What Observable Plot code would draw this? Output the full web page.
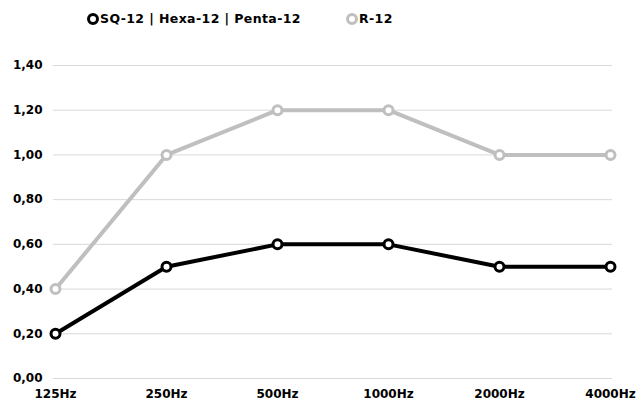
<!DOCTYPE html>
<html>
<head>
<meta charset="utf-8">
<script src="https://cdn.jsdelivr.net/npm/d3@7"></script>
<script src="https://cdn.jsdelivr.net/npm/@observablehq/plot@0.6"></script>
<style>
  html, body { margin: 0; padding: 0; background: #fff; }
  #wrap { position: relative; width: 643px; height: 404px; font-family: "DejaVu Sans", sans-serif; font-weight: 700; }
  .item { position: absolute; top: 11px; display: flex; align-items: center; font-size: 12.5px; letter-spacing: 0.4px; color: #000; line-height: 16px; white-space: nowrap; }
  .sw { display: inline-block; width: 6px; height: 6px; border-radius: 50%; background: #fff; border: 3px solid #000; margin-right: 1px; }
  #chart { position: absolute; top: 0; left: 0; }
</style>
</head>
<body>
<div id="wrap">
  <div id="chart"></div>
  <div id="legend"></div>
</div>
<script>
const categories = ["125Hz", "250Hz", "500Hz", "1000Hz", "2000Hz", "4000Hz"];
const seriesNames = ["SQ-12 | Hexa-12 | Penta-12", "R-12"];
const seriesColors = ["#000000", "#bfbfbf"];
const sqValues = [0.20, 0.50, 0.60, 0.60, 0.50, 0.50];
const rValues = [0.40, 1.00, 1.20, 1.20, 1.00, 1.00];
const yTicks = [0, 0.2, 0.4, 0.6, 0.8, 1.0, 1.2, 1.4];

const data = [
  ...categories.map((c, i) => ({cat: c, v: sqValues[i], s: seriesNames[0]})),
  ...categories.map((c, i) => ({cat: c, v: rValues[i], s: seriesNames[1]}))
];
const order = [seriesNames[1], seriesNames[0]];
data.sort((a, b) => order.indexOf(a.s) - order.indexOf(b.s));

const fmt = d => d.toFixed(2).replace(".", ",");

const chart = Plot.plot({
  width: 643,
  height: 404,
  marginLeft: 53,
  marginRight: 31,
  marginTop: 65,
  marginBottom: 26,
  style: {fontFamily: "'DejaVu Sans', sans-serif", fontWeight: 700, fontSize: "12px", color: "#000", background: "#fff"},
  x: {type: "point", domain: categories, padding: 0, label: null},
  y: {domain: [0, 1.4], label: null},
  color: {domain: seriesNames, range: seriesColors},
  marks: [
    Plot.ruleY(yTicks, {stroke: "#d9d9d9", strokeWidth: 1}),
    Plot.axisY(yTicks, {tickSize: 0, tickPadding: 11, tickFormat: fmt, fontWeight: 700, fontSize: 12}),
    Plot.axisX({tickSize: 0, tickPadding: 11, fontWeight: 700, fontSize: 12}),
    Plot.line(data, {x: "cat", y: "v", z: "s", stroke: "s", strokeWidth: 4}),
    Plot.dot(data, {x: "cat", y: "v", stroke: "s", fill: "#fff", r: 4.5, strokeWidth: 3})
  ]
});
document.getElementById("chart").appendChild(chart);

const legend = document.getElementById("legend");
const legendLeft = [87, 346];
seriesNames.forEach((name, i) => {
  const item = document.createElement("div");
  item.className = "item";
  item.style.left = legendLeft[i] + "px";
  const sw = document.createElement("span");
  sw.className = "sw";
  sw.style.borderColor = seriesColors[i];
  const t = document.createElement("span");
  t.textContent = name;
  item.appendChild(sw);
  item.appendChild(t);
  legend.appendChild(item);
});
</script>
</body>
</html>
